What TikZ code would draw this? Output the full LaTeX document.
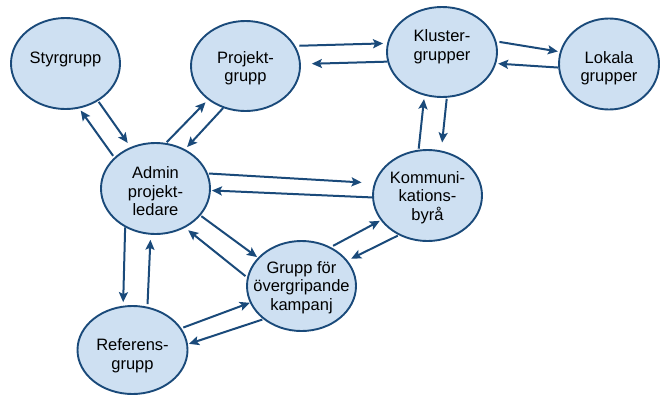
\documentclass[tikz,border=0pt]{standalone}
\usepackage{fontspec}
\setmainfont{Liberation Sans}
\usetikzlibrary{shapes.geometric,arrows.meta}
\definecolor{blobfill}{HTML}{CEE0F2}
\definecolor{dkblue}{HTML}{1A4A7A}
\tikzset{
  blob/.style={ellipse, draw=dkblue, fill=blobfill, line width=1.9pt, inner sep=0pt},
  txt/.style={align=center, font=\fontsize{16.5pt}{18.5pt}\selectfont, inner sep=0pt, text=black},
  arr/.style={-{Stealth[length=10pt,width=9pt,inset=2pt]}, line width=2pt, draw=dkblue}
}
\begin{document}
\begin{tikzpicture}[x=1pt,y=-1pt]
\useasboundingbox (0,0) rectangle (660,394);
\node[blob, minimum width=109pt, minimum height=91pt, label={[txt,yshift=4.4pt]center:Styrgrupp}] (styr) at (65.5,63.5) {};
\node[blob, minimum width=109pt, minimum height=90pt, label={[txt,yshift=-2.3pt]center:Projekt-\\grupp}] (proj) at (245.5,66) {};
\node[blob, minimum width=110pt, minimum height=90pt, label={[txt,yshift=5.2pt]center:Kluster-\\grupper}] (klus) at (442,52) {};
\node[blob, minimum width=100pt, minimum height=91pt, label={[txt,yshift=-4.3pt]center:Lokala\\grupper}] (lok) at (609,64) {};
\node[blob, minimum width=109pt, minimum height=91pt, label={[txt,yshift=-2.6pt]center:Admin\\projekt-\\ledare}] (admin) at (155.5,188.5) {};
\node[blob, minimum width=109pt, minimum height=91pt, label={[txt,yshift=-2pt]center:Kommuni-\\kations-\\byrå}] (komm) at (427.5,195.5) {};
\node[blob, minimum width=109pt, minimum height=90pt, label={[txt,yshift=-1.6pt]center:Grupp för\\övergripande\\kampanj}] (grupp) at (301.5,286) {};
\node[blob, minimum width=110pt, minimum height=88pt, label={[txt,yshift=-5.6pt]center:Referens-\\grupp}] (ref) at (132.5,350) {};

\draw[arr, shorten <=1pt, shorten >=5pt] (styr.-49) -- (admin.121);
\draw[arr, shorten <=2pt, shorten >=2.5pt] (admin.143) -- (styr.-73);
\draw[arr, shorten <=1pt, shorten >=3.5pt] (admin.77) -- (proj.222);
\draw[arr, shorten >=3pt] (proj.242) -- (admin.53);
\draw[arr, shorten <=4pt, shorten >=4pt] (proj.22) -- (klus.171);
\draw[arr, shorten >=11pt] (klus.190) -- (proj.2);
\draw[arr, shorten <=3pt, shorten >=2pt] (klus.11) -- (lok.166);
\draw[arr, shorten >=2pt] (lok.184) -- (klus.-12);
\draw[arr, shorten <=1pt, shorten >=3.5pt] (komm.101) -- (klus.248);
\draw[arr, shorten <=1pt, shorten >=8pt] (klus.-84) -- (komm.73);
\draw[arr, shorten <=1pt, shorten >=12.5pt] (admin.16) -- (komm.167);
\draw[arr, shorten >=1pt] (komm.182) -- (admin.-2.5);
\draw[arr, shorten <=1pt, shorten >=1pt] (admin.-31) -- (grupp.147);
\draw[arr, shorten <=2pt, shorten >=4pt] (grupp.171) -- (admin.-53);
\draw[arr, shorten >=3.5pt] (admin.232) -- (ref.102);
\draw[arr, shorten <=2.5pt, shorten >=5pt] (ref.71) -- (admin.264);
\draw[arr, shorten <=2pt] (ref.24.5) -- (grupp.198);
\draw[arr, shorten <=1pt, shorten >=1pt] (grupp.221) -- (ref.6);
\draw[arr, shorten <=2.5pt, shorten >=1pt] (grupp.53) -- (komm.208);
\draw[arr, shorten <=1pt, shorten >=4pt] (komm.234) -- (grupp.29.5);
\end{tikzpicture}
\end{document}
